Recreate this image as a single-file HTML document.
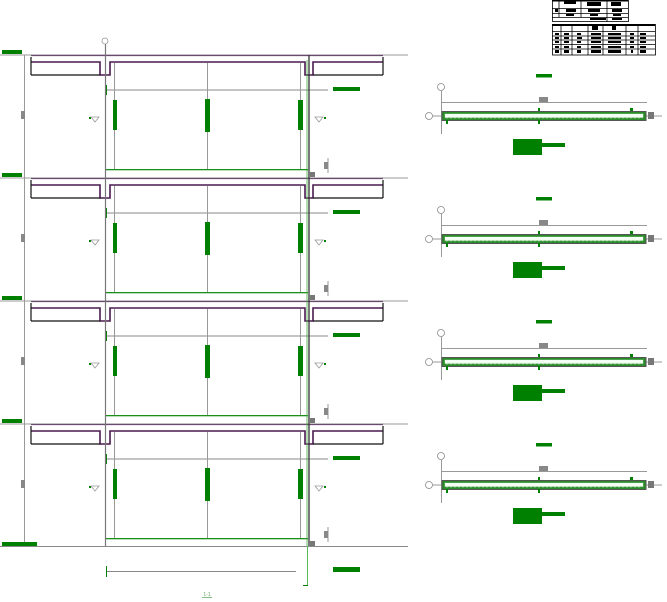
<!DOCTYPE html>
<html><head><meta charset="utf-8"><style>
html,body{margin:0;padding:0;background:#fff;}
svg{display:block;}
</style></head><body>
<svg width="667" height="602" viewBox="0 0 667 602" xmlns="http://www.w3.org/2000/svg" font-family="Liberation Sans, sans-serif">
<defs>
<g id="floor">
  <line x1="0" y1="0" x2="408" y2="0" stroke="#999" stroke-width="1"/>
  <line x1="31" y1="0.5" x2="383" y2="0.5" stroke="#6a4a70" stroke-width="1.3"/>
  <rect x="2" y="-5" width="20" height="4" fill="#008000"/>
  <rect x="21" y="56" width="4" height="8" fill="#888"/>
  <polyline points="31,7 100,7 100,20 110,20 110,7 305,7 305,20 313,20 313,7 383,7" fill="none" stroke="#4a1a50" stroke-width="1.6"/>
  <line x1="31" y1="20" x2="100" y2="20" stroke="#111" stroke-width="1.2"/>
  <line x1="313" y1="20" x2="383" y2="20" stroke="#111" stroke-width="1.2"/>
  <line x1="31" y1="2" x2="31" y2="20" stroke="#111" stroke-width="1.2"/>
  <line x1="383" y1="2" x2="383" y2="20" stroke="#111" stroke-width="1.2"/>
  <line x1="106" y1="35" x2="328" y2="35" stroke="#888" stroke-width="1"/>
  <line x1="106.5" y1="30" x2="106.5" y2="40" stroke="#008000" stroke-width="1"/>
  <rect x="333" y="32" width="27" height="4" fill="#008000"/>
  <line x1="114.5" y1="8" x2="114.5" y2="115" stroke="#999" stroke-width="1"/>
  <line x1="207.5" y1="8" x2="207.5" y2="115" stroke="#999" stroke-width="1"/>
  <line x1="300.5" y1="8" x2="300.5" y2="115" stroke="#999" stroke-width="1"/>
  <rect x="113" y="45" width="4" height="30" fill="#008000"/>
  <rect x="205" y="44" width="5" height="33" fill="#008000"/>
  <rect x="298" y="45" width="5" height="30" fill="#008000"/>
  <rect x="105" y="114" width="203" height="1.3" fill="#1a901a"/>
  <rect x="89" y="62" width="2" height="2" fill="#008000"/>
  <path d="M91,62 L99,62 L95,67 Z" fill="none" stroke="#999" stroke-width="0.8"/>
  <rect x="324" y="62" width="2" height="2" fill="#008000"/>
  <path d="M315,62 L323,62 L319,67 Z" fill="none" stroke="#999" stroke-width="0.8"/>
  <line x1="328" y1="103" x2="328" y2="118" stroke="#999" stroke-width="1"/>
  <rect x="324" y="107" width="4" height="7" fill="#888"/>
  <rect x="310" y="117" width="5" height="5" fill="#777"/>
</g>
<g id="beam">
  <rect x="536" y="74" width="16" height="3.5" fill="#008000"/>
  <circle cx="441" cy="87" r="3.5" fill="#fff" stroke="#888" stroke-width="0.8"/>
  <line x1="441.5" y1="91" x2="441.5" y2="134" stroke="#999" stroke-width="1"/>
  <line x1="441" y1="102.5" x2="647" y2="102.5" stroke="#999" stroke-width="1"/>
  <rect x="539" y="97" width="9" height="5" fill="#888"/>
  <line x1="433" y1="116" x2="662" y2="116" stroke="#999" stroke-width="1"/>
  <circle cx="429" cy="116" r="3.5" fill="#fff" stroke="#888" stroke-width="0.8"/>
  <rect x="442" y="111.5" width="204" height="9" fill="#2a8a2a" stroke="#555" stroke-width="1"/>
  <rect x="444.5" y="113.5" width="199" height="4.5" fill="#f4fff4" stroke="#3a9a3a" stroke-width="0.8"/>
  <line x1="446" y1="118" x2="642" y2="118" stroke="#9c9" stroke-width="0.7" stroke-dasharray="2,2"/>
  <rect x="648" y="112" width="6" height="7" fill="#777"/>
  <rect x="538" y="108" width="2" height="3" fill="#008000"/>
  <rect x="538" y="120" width="2" height="4" fill="#008000"/>
  <rect x="446" y="120" width="2" height="4" fill="#008000"/>
  <rect x="630" y="108" width="3" height="3" fill="#008000"/>
  <rect x="513" y="139" width="29" height="16" fill="#008000"/>
  <rect x="542" y="143" width="23" height="4" fill="#008000"/>
</g>
</defs>

<line x1="24.5" y1="55" x2="24.5" y2="546" stroke="#999" stroke-width="1"/>
<use href="#floor" transform="translate(0,55)"/>
<use href="#floor" transform="translate(0,178)"/>
<use href="#floor" transform="translate(0,301)"/>
<use href="#floor" transform="translate(0,424)"/>
<line x1="105.5" y1="42" x2="105.5" y2="546" stroke="#777" stroke-width="1.2"/>
<circle cx="105" cy="41" r="3" fill="#fff" stroke="#999" stroke-width="0.8"/>
<line x1="309" y1="55" x2="309" y2="546" stroke="#333" stroke-width="1.3"/>
<line x1="307" y1="60" x2="307" y2="546" stroke="#4a4" stroke-width="0.8"/>
<line x1="0" y1="546.5" x2="408" y2="546.5" stroke="#888" stroke-width="1"/>
<rect x="2" y="542" width="35" height="4" fill="#008000"/>
<line x1="307.5" y1="546" x2="307.5" y2="585" stroke="#5b5" stroke-width="1"/>
<line x1="303" y1="585.5" x2="308" y2="585.5" stroke="#008000" stroke-width="1"/>
<line x1="106" y1="571.5" x2="296" y2="571.5" stroke="#888" stroke-width="1"/>
<line x1="106.5" y1="566" x2="106.5" y2="577" stroke="#008000" stroke-width="1"/>
<rect x="333" y="567" width="27" height="5" fill="#008000"/>
<text x="207" y="596" font-size="5" fill="#6a6" text-anchor="middle">1-1</text>
<line x1="202" y1="597.5" x2="212" y2="597.5" stroke="#6a6" stroke-width="0.8"/>

<use href="#beam" transform="translate(0,0)"/>
<use href="#beam" transform="translate(0,123)"/>
<use href="#beam" transform="translate(0,246)"/>
<use href="#beam" transform="translate(0,369)"/>

<g stroke="#000" fill="none" stroke-width="0.8">
  <rect x="552.5" y="0.5" width="76" height="21"/>
  <line x1="559" y1="0" x2="559" y2="17"/><line x1="581" y1="0" x2="581" y2="17"/><line x1="607" y1="0" x2="607" y2="22"/>
  <line x1="552" y1="8.5" x2="628" y2="8.5"/><line x1="552" y1="13.5" x2="628" y2="13.5"/><line x1="552" y1="17.5" x2="628" y2="17.5"/>
  <rect x="552.5" y="24.5" width="103" height="30.5"/>
  <line x1="561" y1="24" x2="561" y2="55"/><line x1="572" y1="24" x2="572" y2="55"/><line x1="588" y1="24" x2="588" y2="55"/>
  <line x1="603" y1="24" x2="603" y2="55"/><line x1="626" y1="24" x2="626" y2="55"/><line x1="638" y1="24" x2="638" y2="55"/>
  <line x1="552" y1="31.5" x2="655" y2="31.5"/><line x1="552" y1="36" x2="655" y2="36"/><line x1="552" y1="40" x2="655" y2="40"/>
  <line x1="552" y1="44.5" x2="655" y2="44.5"/><line x1="552" y1="49" x2="655" y2="49"/>
</g>
<g fill="#000">
  <rect x="552" y="0" width="76" height="1.5"/>
  <rect x="564" y="0" width="12" height="4"/><rect x="587" y="2" width="14" height="4"/><rect x="611" y="2" width="10" height="4"/>
  <rect x="555" y="9" width="3" height="3"/><rect x="566" y="9" width="10" height="3"/><rect x="588" y="9" width="12" height="3"/><rect x="612" y="9" width="10" height="3"/>
  <rect x="566" y="14" width="8" height="2"/><rect x="590" y="14" width="8" height="2"/><rect x="613" y="14" width="8" height="2"/>
  <rect x="590" y="18" width="16" height="2"/><rect x="612" y="18" width="10" height="2"/>
  <rect x="552" y="24" width="103" height="2"/>
  <rect x="592" y="26" width="6" height="4"/><rect x="612" y="26" width="4" height="4"/>
  <rect x="555" y="33" width="4" height="2"/><rect x="564" y="33" width="5" height="2"/><rect x="577" y="33" width="4" height="2"/><rect x="591" y="33" width="10" height="2"/><rect x="608" y="33" width="13" height="2"/><rect x="630" y="33" width="4" height="2"/><rect x="640" y="33" width="6" height="2"/>
  <rect x="555" y="37" width="4" height="2"/><rect x="564" y="37" width="5" height="2"/><rect x="577" y="37" width="5" height="2"/><rect x="591" y="37" width="10" height="2"/><rect x="608" y="37" width="13" height="2"/><rect x="630" y="37" width="4" height="2"/><rect x="640" y="37" width="6" height="2"/>
  <rect x="555" y="41" width="4" height="2"/><rect x="564" y="41" width="5" height="2"/><rect x="577" y="41" width="4" height="2"/><rect x="591" y="41" width="10" height="2"/><rect x="608" y="41" width="13" height="2"/><rect x="630" y="41" width="4" height="2"/><rect x="640" y="41" width="6" height="2"/>
  <rect x="555" y="46" width="4" height="2"/><rect x="564" y="46" width="5" height="2"/><rect x="577" y="46" width="4" height="2"/><rect x="591" y="46" width="10" height="2"/><rect x="608" y="46" width="13" height="2"/><rect x="630" y="46" width="4" height="2"/><rect x="640" y="46" width="6" height="2"/>
  <rect x="555" y="50" width="4" height="3"/><rect x="564" y="50" width="5" height="3"/><rect x="577" y="50" width="4" height="3"/><rect x="591" y="50" width="10" height="3"/><rect x="608" y="50" width="13" height="3"/><rect x="631" y="50" width="2" height="3"/><rect x="640" y="50" width="6" height="3"/>
</g>
</svg>
</body></html>
